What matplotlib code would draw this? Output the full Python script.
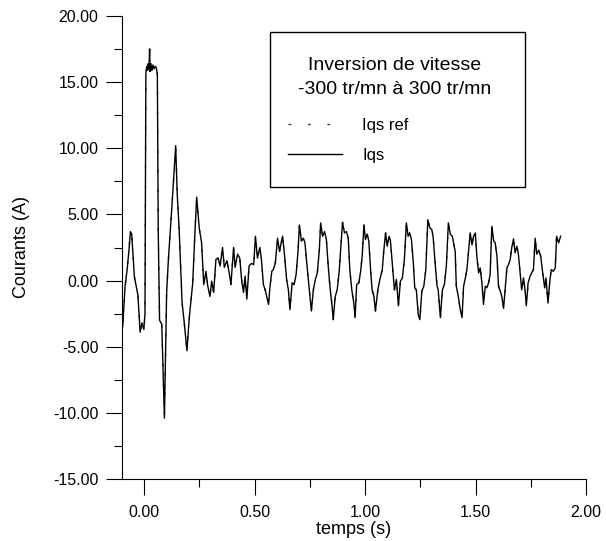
import matplotlib
matplotlib.use("Agg")
import matplotlib.pyplot as plt
from matplotlib.patches import Rectangle
from matplotlib.ticker import MultipleLocator, FormatStrFormatter

plt.rcParams['font.family'] = ['Liberation Sans', 'DejaVu Sans']

# values
t = [-0.100, -0.097, -0.086, -0.077, -0.069, -0.062, -0.056, -0.044, -0.028, -0.018,
     -0.010, -0.001, 0.004, 0.008, 0.012, 0.016, 0.019, 0.022, 0.025, 0.027,
     0.031, 0.035, 0.040, 0.045, 0.050, 0.055, 0.060, 0.064, 0.070, 0.080,
     0.092, 0.102, 0.110, 0.127, 0.143, 0.150, 0.158, 0.172, 0.180, 0.194,
     0.205, 0.220, 0.230, 0.238, 0.250, 0.260, 0.270, 0.280, 0.288, 0.298,
     0.306, 0.315, 0.325, 0.335, 0.344, 0.355, 0.363, 0.375, 0.385, 0.393,
     0.405, 0.412, 0.423, 0.433, 0.442, 0.450, 0.457, 0.465, 0.475, 0.486,
     0.496, 0.504, 0.513, 0.524, 0.531, 0.540, 0.548, 0.555, 0.563, 0.570,
     0.578, 0.585, 0.594, 0.604, 0.613, 0.622, 0.627, 0.636, 0.645, 0.653,
     0.660, 0.670, 0.679, 0.688, 0.697, 0.703, 0.712, 0.721, 0.728, 0.739,
     0.748, 0.757, 0.766, 0.775, 0.784, 0.793, 0.799, 0.808, 0.817, 0.825,
     0.834, 0.841, 0.850, 0.856, 0.865, 0.874, 0.883, 0.892, 0.898, 0.907,
     0.916, 0.924, 0.931, 0.940, 0.949, 0.955, 0.962, 0.972, 0.980, 0.987,
     0.995, 1.002, 1.010, 1.017, 1.025, 1.032, 1.040, 1.047, 1.058, 1.067,
     1.078, 1.085, 1.093, 1.100, 1.109, 1.115, 1.124, 1.133, 1.142, 1.151,
     1.160, 1.169, 1.178, 1.187, 1.195, 1.202, 1.210, 1.218, 1.225, 1.232,
     1.241, 1.248, 1.257, 1.266, 1.275, 1.284, 1.293, 1.302, 1.308, 1.317,
     1.326, 1.331, 1.341, 1.350, 1.359, 1.368, 1.377, 1.386, 1.395, 1.408,
     1.413, 1.422, 1.431, 1.439, 1.446, 1.454, 1.461, 1.469, 1.476, 1.484,
     1.491, 1.499, 1.506, 1.514, 1.521, 1.529, 1.536, 1.544, 1.551, 1.559,
     1.566, 1.574, 1.582, 1.589, 1.597, 1.604, 1.612, 1.619, 1.627, 1.634,
     1.642, 1.649, 1.657, 1.664, 1.672, 1.679, 1.687, 1.694, 1.702, 1.709,
     1.717, 1.724, 1.730, 1.738, 1.747, 1.754, 1.762, 1.770, 1.777, 1.786,
     1.795, 1.804, 1.813, 1.819, 1.828, 1.837, 1.843, 1.852, 1.861, 1.867,
     1.876, 1.885]

iqs = [-2.4, -3.5, -0.4, 0.8, 2.2, 3.7, 3.5, 0.3, -1.1, -3.9,
       -3.2, -3.7, -2.5, 15.6, 16.2, 15.9, 16.4, 16.0, 17.5, 15.8,
       16.4, 15.9, 16.3, 16.0, 16.2, 16.1, 15.6, 3.8, -3.0, -3.3,
       -10.4, -0.9, 1.6, 5.9, 10.2, 6.5, 4.1, -1.7, -2.9, -5.3,
       -2.7, -0.2, 3.6, 6.3, 3.9, 2.9, -0.3, 0.7, -0.4, -1.2,
       -0.05, -0.9, 1.6, 1.7, 1.1, 2.5, 1.0, 1.5, 0.6, -0.3,
       2.5, 1.0, 2.0, 1.7, -0.05, -0.9, 0.33, -1.4, 1.1, 1.3,
       1.2, 3.35, 1.7, 2.5, 1.6, -0.3, -0.7, -1.2, -1.8, -0.43,
       0.7, 0.83, 1.34, 3.2, 2.2, 3.0, 3.35, 1.84, 0.08, -0.7,
       -2.2, -0.17, -0.3, 0.45, 2.3, 4.2, 3.0, 3.2, 2.85, 0.83,
       -0.7, -2.3, -0.7, 0.08, 0.58, 2.3, 4.36, 3.35, 3.7, 3.1,
       0.96, -0.43, -1.8, -2.95, -1.2, -0.7, 0.7, 2.85, 4.4, 3.6,
       3.7, 3.2, 0.83, -0.7, -1.7, -2.8, -0.3, -0.17, 0.7, 1.84,
       4.2, 3.1, 3.5, 3.0, 0.83, -0.7, -1.2, -2.3, -0.7, 0.08,
       0.83, 2.3, 3.6, 2.6, 3.35, 3.0, 1.1, -0.7, 0.08, -1.9,
       -0.05, 0.2, 1.6, 4.36, 3.35, 3.6, 3.1, 1.46, -0.55, -0.7,
       -2.6, -2.95, -0.8, -0.43, 0.83, 4.6, 4.0, 3.85, 3.35, 1.34,
       -0.43, -0.7, -2.8, -0.7, -0.3, 1.1, 4.36, 3.5, 3.35, 2.2,
       -0.43, -1.2, -2.2, -2.8, -0.43, 0.2, 0.83, 2.3, 3.6, 2.7,
       3.35, 3.6, 1.84, 0.58, 0.96, -0.17, -1.8, -0.43, -0.55, -0.17,
       0.45, 4.1, 3.0, 2.85, 1.84, -0.43, -0.8, -1.2, -2.1, -0.7,
       0.96, 1.2, 1.6, 2.5, 3.15, 2.1, 2.6, 2.0, 0.58, -0.7,
       0.2, -0.7, -1.9, -0.17, 0.33, 0.58, 0.83, 3.2, 2.0, 2.3,
       1.84, 0.58, -0.55, 0.2, -1.7, 0.08, 0.83, 0.7, 0.96, 3.35,
       2.85, 3.35]

# the reference current lies on top of the measured one in the picture
iqs_ref = list(iqs)

title_lines = ["Inversion de vitesse", "-300 tr/mn à 300 tr/mn"]

fig = plt.figure(figsize=(6.06, 5.41), dpi=100)
ax = fig.add_axes([122/606, 1 - 479/541, 464/606, 463/541])

ref_line, = ax.plot(t, iqs_ref, color="#3a3a3a", lw=1.0, ls=(0, (2, 12)), label="Iqs ref")
meas_line, = ax.plot(t, iqs, color="black", lw=1.0, label="Iqs")

ax.set_xlim(-0.1, 2.0)
ax.set_ylim(-15, 20)
ax.spines["top"].set_visible(False)
ax.spines["right"].set_visible(False)
ax.xaxis.set_major_locator(MultipleLocator(0.5))
ax.xaxis.set_minor_locator(MultipleLocator(0.25))
ax.yaxis.set_major_locator(MultipleLocator(5))
ax.yaxis.set_minor_locator(MultipleLocator(2.5))
ax.xaxis.set_major_formatter(FormatStrFormatter("%.2f"))
ax.yaxis.set_major_formatter(FormatStrFormatter("%.2f"))
ax.tick_params(which="major", length=11.5, width=0.8, labelsize=11.5, pad=5.5)
ax.tick_params(axis="x", which="major", pad=7)
ax.tick_params(which="minor", length=5.8, width=0.8)
ax.set_xlabel("temps (s)", fontsize=13, labelpad=1)
ax.set_ylabel("Courants (A)", fontsize=13)
ax.yaxis.set_label_coords(-0.198, 0.5)

# legend box with its two-line title
fig.patches.append(Rectangle((270/606, 1 - 186.5/541), 255/606, 154/541,
                             transform=fig.transFigure, fill=False,
                             edgecolor="black", lw=1.0))
fig.text(395/606, 1 - 69.5/541, title_lines[0], ha="center", va="baseline", fontsize=14)
fig.text(395/606, 1 - 93.5/541, title_lines[1], ha="center", va="baseline", fontsize=14)
fig.legend(handles=[ref_line, meas_line], loc="upper left",
           bbox_to_anchor=(288/606, 1 - 118/541), frameon=False, fontsize=12,
           handlelength=3.25, handletextpad=1.2, labelspacing=0.9,
           borderpad=0, borderaxespad=0)

plt.savefig("out.png", dpi=100)
